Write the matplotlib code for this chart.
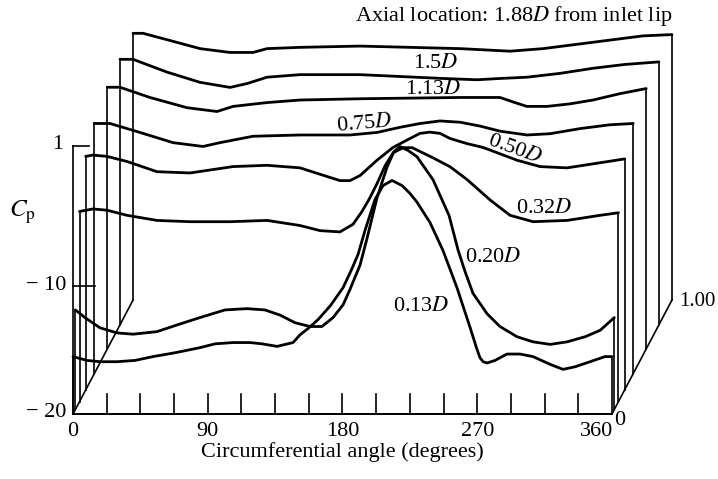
import numpy as np
import matplotlib.pyplot as plt

plt.rcParams['font.family'] = ['Liberation Serif', 'DejaVu Serif']
plt.rcParams['mathtext.fontset'] = 'stix'

# axial stations (inlet diameters) - front trace first
stations = [0.13, 0.20, 0.32, 0.50, 0.75, 1.13, 1.5, 1.88]
station_labels = ['0.13$D$', '0.20$D$', '0.32$D$', '0.50$D$', '0.75$D$', '1.13$D$', '1.5$D$']

# Cp vs circumferential angle
theta_013 = [0, 9.4, 18.0, 29.4, 41.4, 53.4, 68.1, 84.8, 94.9, 106.9, 118.2, 126.3, 136.3, 147.0, 151.6,
             157.0, 163.7, 172.0, 180.4, 186.0, 190.4, 195.1, 201.7, 207.1, 213.1, 219.8, 225.0, 229.8,
             238.5, 247.2, 256.5, 265.2, 269.5, 271.9, 274.0, 276.6, 281.9, 289.9, 298.6, 307.3, 318.6,
             327.3, 335.3, 345.4, 355.4, 360]
cp_013 = [-15.5, -15.8, -15.9, -15.9, -15.8, -15.5, -15.2, -14.8, -14.5, -14.4, -14.4, -14.5, -14.7, -14.4, -13.8,
          -13.3, -12.6, -11.5, -10.1, -8.7, -7.5, -5.6, -3.2, -2.1, -1.7, -2.1, -2.7, -3.4,
          -5.0, -7.2, -10.1, -13.2, -14.8, -15.6, -15.9, -16.0, -15.8, -15.3, -15.3, -15.5, -16.1,
          -16.5, -16.3, -15.9, -15.5, -15.5]

theta_020 = [0, 6.4, 16.4, 27.8, 38.5, 54.5, 69.9, 83.2, 99.9, 114.6, 126.6, 136.6, 146.7, 156.7, 164.7,
             172.1, 178.8, 183.4, 190.1, 194.8, 201.5, 208.2, 212.8, 216.8, 222.2, 228.2, 238.9, 249.6,
             255.6, 260.3, 265.6, 275.0, 283.6, 295.0, 305.7, 317.1, 328.5, 340.5, 350.5, 360]
cp_020 = [-12.2, -12.8, -13.6, -14.0, -14.1, -13.9, -13.3, -12.8, -12.2, -12.1, -12.2, -12.6, -13.2, -13.5, -13.5,
          -12.8, -11.8, -10.6, -8.7, -6.6, -3.4, -1.0, 0.2, 0.6, 0.3, -0.2, -2.0, -4.8,
          -7.5, -9.2, -10.9, -12.5, -13.5, -14.3, -14.7, -14.9, -14.7, -14.3, -13.8, -12.8]

theta_032 = [0, 9.0, 18.4, 31.7, 51.8, 73.8, 100.5, 125.3, 147.3, 160.7, 174.0, 182.7, 188.7, 194.1,
             198.8, 204.2, 209.5, 216.2, 222.2, 227.5, 236.2, 247.6, 258.9, 274.3, 287.6, 303.0,
             325.7, 347.7, 360]
cp_032 = [-5.1, -4.9, -5.0, -5.4, -5.8, -5.9, -5.9, -5.8, -6.2, -6.6, -6.7, -6.1, -5.1, -4.0,
          -2.9, -1.5, -0.5, -0.1, -0.1, -0.4, -0.9, -1.6, -2.6, -4.2, -5.4, -5.9,
          -5.8, -5.4, -5.2]

theta_050 = [0, 4.9, 14.2, 27.6, 47.6, 69.7, 98.4, 121.1, 143.2, 156.5, 169.9, 176.6, 183.3, 194.6,
             205.3, 216.6, 223.3, 230.0, 236.7, 243.4, 254.7, 265.4, 276.8, 288.1, 303.5, 321.5,
             343.6, 360]
cp_050 = [-1.7, -1.6, -1.7, -2.1, -2.9, -3.0, -2.5, -2.4, -2.6, -3.1, -3.6, -3.6, -3.2, -2.0,
          -1.0, -0.3, 0.1, 0.2, 0.1, -0.3, -0.7, -1.0, -1.5, -2.0, -2.5, -2.6,
          -2.2, -1.9]

theta_075 = [0, 10.5, 30.5, 52.6, 72.6, 84.0, 106.0, 137.4, 170.8, 188.9, 204.2, 217.6, 230.9, 244.3,
             257.6, 271.0, 289.1, 304.4, 324.5, 344.5, 360]
cp_075 = [-0.4, -0.4, -1.1, -1.9, -2.2, -1.9, -1.4, -1.3, -1.3, -1.1, -0.7, -0.4, -0.2, -0.3,
          -0.6, -1.0, -1.3, -1.2, -0.8, -0.5, -0.4]

theta_113 = [0, 8.5, 28.5, 53.2, 73.3, 84.0, 106.7, 128.7, 168.8, 235.6, 262.3, 272.3, 280.3, 293.7,
             309.1, 324.4, 342.5, 360]
cp_113 = [0.5, 0.5, -0.3, -1.1, -1.4, -1.0, -0.7, -0.5, -0.4, -0.3, -0.3, -0.7, -1.0, -1.0,
          -0.8, -0.5, 0.0, 0.4]

theta_150 = [0, 8.7, 31.4, 53.4, 73.5, 84.8, 98.2, 120.2, 160.3, 215.8, 238.5, 253.8, 271.9, 293.9,
             316.0, 337.3, 360]
cp_150 = [0.8, 0.8, -0.2, -1.0, -1.4, -1.1, -0.6, -0.4, -0.4, -0.7, -0.8, -0.7, -0.6, -0.3,
          0.1, 0.4, 0.6]

theta_188 = [0, 6.7, 22.7, 44.8, 64.8, 80.2, 89.5, 111.6, 151.6, 218.4, 251.8, 273.9, 307.3, 340.7, 360]
cp_188 = [0.9, 0.9, 0.4, -0.3, -0.6, -0.6, -0.3, -0.2, -0.1, -0.3, -0.5, -0.3, 0.2, 0.7, 0.8]

thetas = [theta_013, theta_020, theta_032, theta_050, theta_075, theta_113, theta_150, theta_188]
cps = [cp_013, cp_020, cp_032, cp_050, cp_075, cp_113, cp_150, cp_188]

angle_ticks = [0, 90, 180, 270, 360]
cp_ticks = [-20, -10, 1]

# oblique projection of the axial direction (per unit depth)
DX = 40.1   # degrees
DY = 8.93   # Cp units
cp_base = -20

fig = plt.figure(figsize=(7.18, 4.79), dpi=100)
ax = fig.add_axes([0, 0, 1, 1])
ax.set_xlim(-48.76, 430.86)
ax.set_ylim(-25.09, 12.44)
ax.axis('off')

k = 'black'
depths = [(s - stations[0]) / (stations[-1] - stations[0]) for s in stations]

for th, cp, d in zip(thetas, cps, depths):
    x = np.array(th) + DX * d
    y = np.array(cp) + DY * d
    ax.plot(x, y, color=k, lw=2.0, solid_joinstyle='round', solid_capstyle='round', clip_on=False)
    # drop lines to the base plane at both ends
    ax.plot([x[0], x[0]], [cp_base + DY * d, y[0]], color=k, lw=1.2)
    ax.plot([x[-1], x[-1]], [cp_base + DY * d, y[-1]], color=k, lw=1.2)

# base frame
ax.plot([0, 360], [cp_base, cp_base], color=k, lw=1.4)
ax.plot([0, DX], [cp_base, cp_base + DY], color=k, lw=1.2)
ax.plot([360, 360 + DX], [cp_base, cp_base + DY], color=k, lw=1.2)
ax.plot([0, 0], [cp_base, 1], color=k, lw=1.2)
ax.plot([0, 11], [1, 1], color=k, lw=1.2)
ax.plot([0, 14.7], [-10, -10], color=k, lw=1.2)
for t in np.arange(22.5, 360, 22.5):
    ax.plot([t, t], [cp_base, cp_base + 1.55], color=k, lw=1.2)

fs = 16
for t in angle_ticks[:-1]:
    ax.text(t, -21.35, str(t), ha='center', va='center', fontsize=fs)
ax.text(361, -21.35, '360', ha='right', va='center', fontsize=fs)
ax.text(365.5, -20.5, '0', ha='center', va='center', fontsize=fs)
ax.text(360 + DX + 5.0, cp_base + DY - 0.1, '1.00', ha='left', va='center', fontsize=15)

for c in cp_ticks:
    lab = str(c) if c > 0 else '\u2212' + ' ' + str(-c)
    ax.text(-17.6 if c < 0 else -10, c + 0.1, lab, ha='center', va='center', fontsize=fs)

ax.text(-33.5, -4.2, '$C_{\\mathrm{p}}$', ha='center', va='center', fontsize=18)
ax.text(180, -23.0, 'Circumferential angle (degrees)', ha='center', va='center', fontsize=fs)
ax.text(400.5, 11.2, 'Axial location: 1.88$D$ from inlet lip', ha='right', va='center', fontsize=fs)

lab_pos = [(232.5, -11.6, 0), (280.6, -7.7, 0), (314.6, -3.9, 0), (295.3, 0.7, -20),
           (195.1, 2.7, 5), (240.5, 5.4, 0), (242.5, 7.5, 0)]
for lab, (lx, ly, rot) in zip(station_labels, lab_pos):
    ax.text(lx, ly, lab, ha='center', va='center', fontsize=fs, rotation=rot)

fig.savefig('out.png', dpi=100)
